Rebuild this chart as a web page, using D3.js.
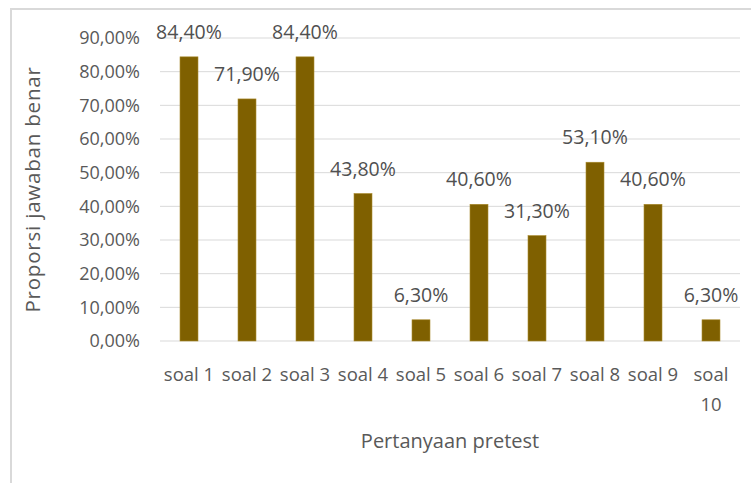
<!DOCTYPE html>
<html>
<head>
<meta charset="utf-8">
<script src="https://cdn.jsdelivr.net/npm/d3@7"></script>
<style>
  html, body { margin: 0; padding: 0; background: #fff; }
  svg { display: block; font-family: "Open Sans", sans-serif; }
</style>
</head>
<body>
<svg id="chart"></svg>
<script>
var categories = ["soal 1", "soal 2", "soal 3", "soal 4", "soal 5", "soal 6", "soal 7", "soal 8", "soal 9", "soal 10"];
var values = [84.4, 71.9, 84.4, 43.8, 6.3, 40.6, 31.3, 53.1, 40.6, 6.3];
var yTicks = [0, 10, 20, 30, 40, 50, 60, 70, 80, 90];

var width = 751;
var height = 483;
var margin = { top: 38, right: 11, bottom: 142, left: 160 };

var svg = d3.select("#chart")
    .attr("width", width)
    .attr("height", height);

// outer frame (chart area is cropped on the right and bottom)
svg.append("path")
    .attr("d", "M11," + height + "V9H" + width)
    .attr("fill", "none")
    .attr("stroke", "#d9d9d9")
    .attr("stroke-width", 2);

var fmt = function (v) { return v.toFixed(2).replace(".", ",") + "%"; };
var fmtLabel = function (v) { return v.toFixed(1).replace(".", ",") + "0%"; };

var x = d3.scaleBand()
    .domain(categories)
    .range([margin.left, width - margin.right])
    .paddingInner(0.69)
    .paddingOuter(0.345);

var y = d3.scaleLinear()
    .domain([0, 90])
    .range([height - margin.bottom, margin.top]);

// gridlines
svg.append("g")
    .selectAll("line")
    .data(yTicks)
    .enter()
    .append("line")
    .attr("x1", margin.left)
    .attr("x2", width - margin.right)
    .attr("y1", d => y(d))
    .attr("y2", d => y(d))
    .attr("stroke", "#d9d9d9")
    .attr("stroke-width", 1);

// y axis labels
var yAxis = svg.append("g")
    .attr("transform", "translate(" + (margin.left - 20) + ",0)")
    .call(d3.axisLeft(y).tickValues(yTicks).tickFormat(fmt).tickSize(0).tickPadding(0));
yAxis.select(".domain").remove();
yAxis.selectAll("text")
    .attr("fill", "#595959")
    .style("font-size", "18px")
    .style("font-family", "'Open Sans', sans-serif");

// bars
svg.append("g")
    .selectAll("rect")
    .data(values)
    .enter()
    .append("rect")
    .attr("x", (d, i) => x(categories[i]))
    .attr("y", d => y(d))
    .attr("width", x.bandwidth())
    .attr("height", d => y(0) - y(d))
    .attr("fill", "#7f6000")
    .attr("stroke", "#a8892a")
    .attr("stroke-width", 0.6);

// data labels
svg.append("g")
    .selectAll("text")
    .data(values)
    .enter()
    .append("text")
    .attr("x", (d, i) => x(categories[i]) + x.bandwidth() / 2)
    .attr("y", d => y(d) - 18)
    .attr("text-anchor", "middle")
    .attr("fill", "#505050")
    .style("font-size", "19.5px")
    .text(d => fmtLabel(d));

// category labels (wrap long ones)
var catG = svg.append("g");
categories.forEach(function (c) {
    var cx = x(c) + x.bandwidth() / 2;
    var t = catG.append("text")
        .attr("x", cx)
        .attr("y", 381)
        .attr("text-anchor", "middle")
        .attr("fill", "#595959")
        .style("font-size", "18.5px");
    if (c.length > 6) {
        var parts = c.split(" ");
        t.append("tspan").attr("x", cx).attr("dy", 0).text(parts[0]);
        t.append("tspan").attr("x", cx).attr("dy", 30).text(parts[1]);
    } else {
        t.text(c);
    }
});

// axis titles
svg.append("text")
    .attr("x", (margin.left + width - margin.right) / 2)
    .attr("y", 448)
    .attr("text-anchor", "middle")
    .attr("fill", "#595959")
    .style("font-size", "20px")
    .text("Pertanyaan pretest");

svg.append("text")
    .attr("transform", "translate(40," + ((y(0) + y(90)) / 2) + ") rotate(-90)")
    .attr("text-anchor", "middle")
    .attr("fill", "#595959")
    .style("font-size", "20.5px")
    .style("font-weight", "500")
    .style("letter-spacing", "0.8px")
    .text("Proporsi jawaban benar");
</script>
</body>
</html>
